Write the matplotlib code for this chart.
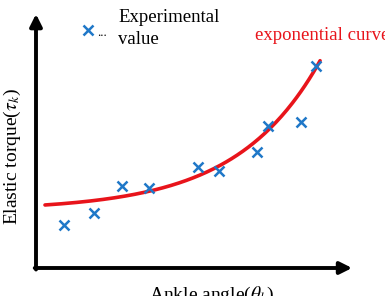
import numpy as np
import matplotlib
matplotlib.use("Agg")
import matplotlib.pyplot as plt

# Experimental points (arbitrary units)
exp_x = [28, 58, 86, 113, 162, 183, 221, 232, 265, 280]
exp_y = [43, 55, 82, 80, 101, 97, 116, 142, 146, 202]

# Exponential curve parameters: y = a + b*exp(c*x)
curve_a = 57.5
curve_b = 4.96
curve_c = 0.012
curve_x_range = (9, 284)

plt.rcParams['font.family'] = ['Liberation Serif', 'DejaVu Serif']
plt.rcParams['mathtext.fontset'] = 'stix'

fig = plt.figure(figsize=(3.85, 2.96), dpi=100)
ax = fig.add_axes([0.0935, 0.0946, 0.821, 0.858])
ax.set_xlim(0, 316)
ax.set_ylim(0, 254)
for s in ax.spines.values():
    s.set_visible(False)
ax.set_xticks([])
ax.set_yticks([])
ax.patch.set_alpha(0)

# axes arrows
ax.annotate('', xy=(1.0, 0), xytext=(-0.004, 0), xycoords='axes fraction',
            arrowprops=dict(arrowstyle='-|>', lw=2.8, color='k', mutation_scale=18,
                            shrinkA=0, shrinkB=0), annotation_clip=False)
ax.annotate('', xy=(0, 1.0), xytext=(0, -0.006), xycoords='axes fraction',
            arrowprops=dict(arrowstyle='-|>', lw=2.8, color='k', mutation_scale=18,
                            shrinkA=0, shrinkB=0), annotation_clip=False)

xs = np.linspace(curve_x_range[0], curve_x_range[1], 200)
ys = curve_a + curve_b * np.exp(curve_c * xs)
ax.plot(xs, ys, color='#E8141B', lw=2.6, solid_capstyle='round')

ax.plot(exp_x, exp_y, linestyle='none', marker='x', color='#1F78C8',
        markersize=6.5, markeredgewidth=1.8)

# legend
ax.plot([52], [238], marker='x', color='#1F78C8', markersize=6.5,
        markeredgewidth=1.8, clip_on=False)
fig.text(97/385, 1-33/296, '...', fontsize=9, va='center', ha='left')
fig.text(118/385, 1-17/296, 'Experimental', fontsize=13.5, va='center', ha='left')
fig.text(118/385, 1-40/296, 'value', fontsize=13.5, va='center', ha='left')
fig.text(255/385, 1-36/296, 'exponential curve', fontsize=13.5, color='#E8141B',
         va='center', ha='left')

fig.text(12/385, 1-157/296, r'Elastic torque($\tau_k$)', fontsize=14,
         rotation=90, va='center', ha='center')
fig.text(212/385, 1-295/296, r'Ankle angle($\theta_k$)', fontsize=14,
         va='center', ha='center')

fig.savefig('out.png', dpi=100)
